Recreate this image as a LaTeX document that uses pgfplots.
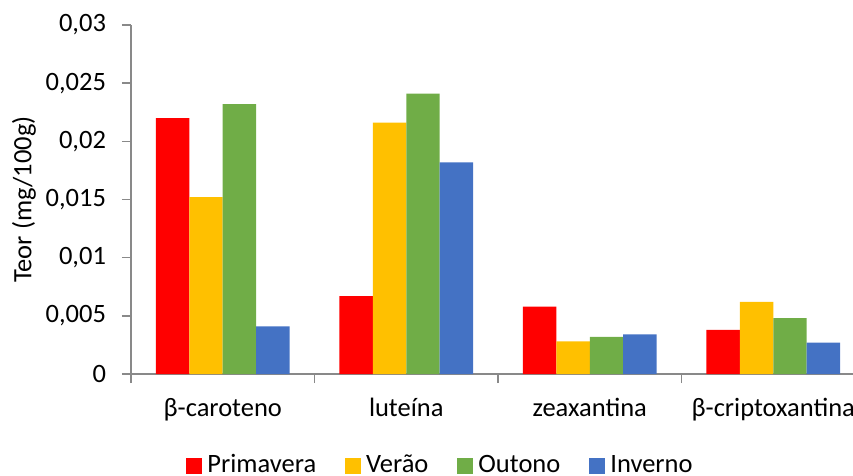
\documentclass[border=0pt]{standalone}
\usepackage{fontspec}
\setmainfont{Carlito}
\usepackage{pgfplots}
\pgfplotsset{compat=1.18}
\usetikzlibrary{calc}

\definecolor{cPrim}{RGB}{255,0,0}
\definecolor{cVer}{RGB}{255,192,0}
\definecolor{cOut}{RGB}{112,173,71}
\definecolor{cInv}{RGB}{68,114,196}
\definecolor{axisgray}{RGB}{137,137,137}

\pgfplotsset{
  sq/.style={legend image code/.code={\fill[##1] (0pt,-8pt) rectangle (16pt,8pt);}},
}

\begin{document}
\fontsize{26.5}{31}\selectfont
\begin{tikzpicture}
\begin{axis}[
  name=ax,
  scale only axis, width=734pt, height=349pt,
  xmin=-0.5, xmax=3.5, ymin=0, ymax=0.03,
  axis x line=bottom, axis y line=left,
  axis line style={axisgray, line width=1.5pt, -},
  tick style={axisgray, line width=1.5pt},
  tick align=outside, major tick length=9pt,
  xtick={-0.5,0.5,1.5,2.5,3.5},
  x tick label as interval,
  xticklabels={β-caroteno, luteína, zeaxantina, β-criptoxantina},
  xticklabel style={yshift=-6pt},
  scaled y ticks=false,
  ytick={0,0.005,0.01,0.015,0.02,0.025,0.03},
  yticklabels={0,{0,005},{0,01},{0,015},{0,02},{0,025},{0,03}},
  yticklabel style={xshift=-7pt},
  ylabel={Teor (mg/100g)},
  every axis y label/.style={at={(axis description cs:0,0.5)}, xshift=-107pt, rotate=90, anchor=center},
  ybar=0pt, bar width=33.4pt,
  legend columns=4,
  legend style={at={(rel axis cs:0.4203,-0.263)}, anchor=center, draw=none,
    nodes={inner sep=0pt},
    /tikz/every odd column/.append style={column sep=5pt},
    /tikz/every even column/.append style={column sep=29pt}},
]
\addplot[fill=cPrim, draw=none, sq] coordinates {(0,0.0220) (1,0.0067) (2,0.0058) (3,0.0038)};
\addplot[fill=cVer, draw=none, sq] coordinates {(0,0.0152) (1,0.0216) (2,0.0028) (3,0.0062)};
\addplot[fill=cOut, draw=none, sq] coordinates {(0,0.0232) (1,0.0241) (2,0.0032) (3,0.0048)};
\addplot[fill=cInv, draw=none, sq] coordinates {(0,0.0041) (1,0.0182) (2,0.0034) (3,0.0027)};
\legend{Primavera, Verão, Outono, Inverno}
\end{axis}
\pgfresetboundingbox
\useasboundingbox ($(ax.south west)+(-131pt,-101pt)$) rectangle ++(853pt,475pt);
\end{tikzpicture}
\end{document}
